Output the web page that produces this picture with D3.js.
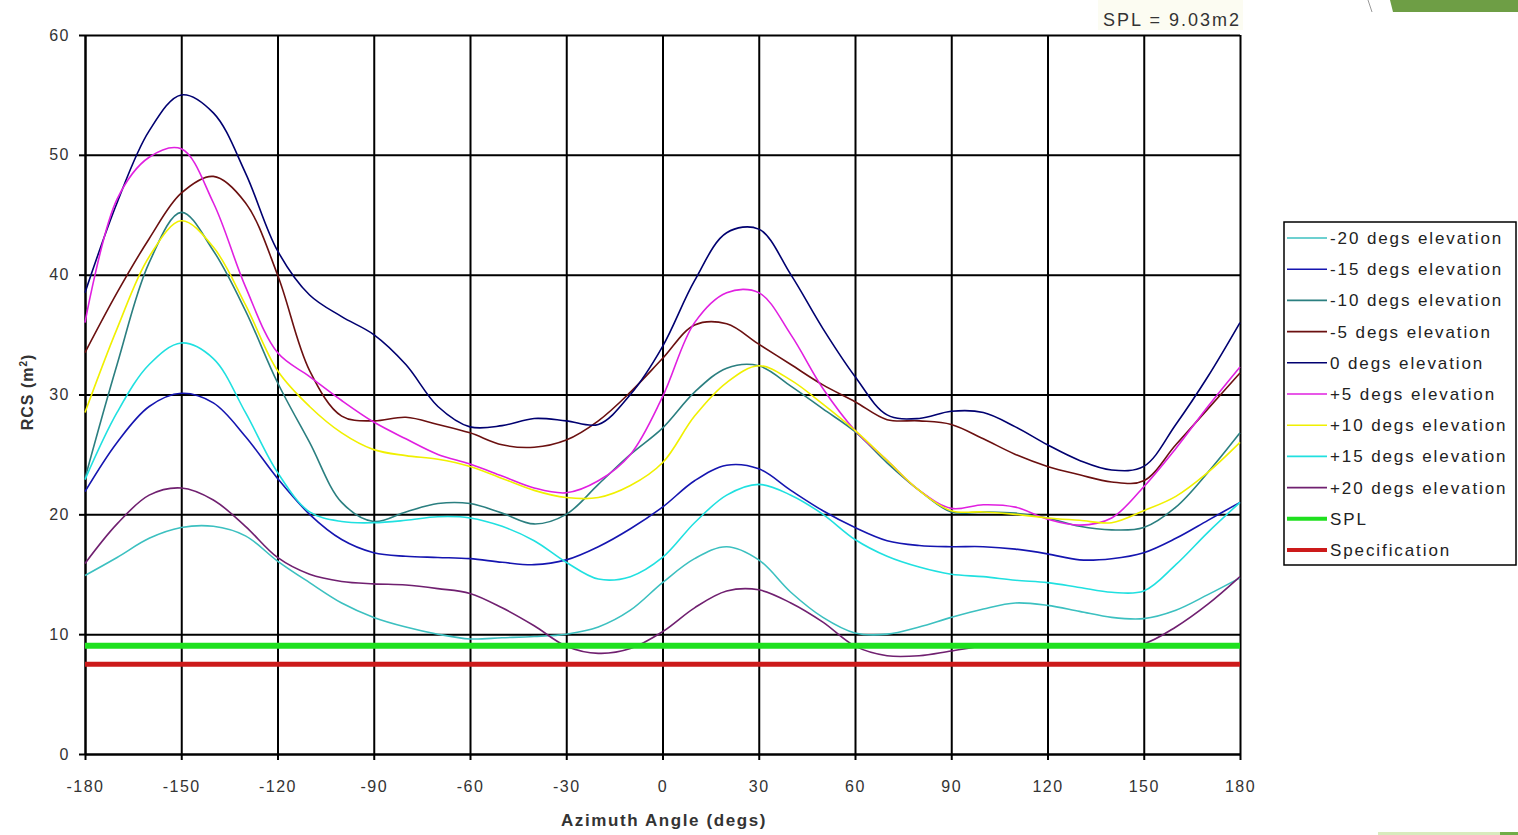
<!DOCTYPE html>
<html>
<head>
<meta charset="utf-8">
<title>RCS vs Azimuth Angle</title>
<script src="https://d3js.org/d3.v7.min.js"></script>
<style>
    body { margin: 0; background: #fff; }
    svg { display: block; font-family: "Liberation Sans", Arial, sans-serif; }
</style>
</head>
<body>
<svg width="1518" height="835"></svg>
<script>
// azimuth samples (degs)
const azimuth = [-180,-170,-160,-150,-140,-130,-120,-110,-100,-90,-80,-70,-60,-50,-40,-30,-20,-10,
                 0,10,20,30,40,50,60,70,80,90,100,110,120,130,140,150,160,170,180];

// RCS (m2) per elevation
const elevM20 = [14.9,16.4,18.0,18.9,19.0,18.2,16.1,14.3,12.6,11.4,10.6,10.0,9.6,9.7,9.8,10.0,10.6,12.0,
                 14.3,16.3,17.3,16.2,13.5,11.4,10.1,10.0,10.6,11.4,12.1,12.6,12.4,11.9,11.4,11.3,12.0,13.3,14.7];
const elevM15 = [21.9,26.0,29.0,30.1,29.3,26.5,23.0,20.0,17.9,16.8,16.5,16.4,16.3,16.0,15.8,16.2,17.3,18.8,
                 20.6,22.8,24.1,23.8,22.0,20.3,18.9,17.8,17.4,17.3,17.3,17.1,16.7,16.2,16.3,16.8,18.0,19.5,21.0];
const elevM10 = [23.0,32.5,41.0,45.2,42.0,37.0,31.0,26.0,21.0,19.4,20.2,20.9,20.9,20.1,19.2,20.0,22.5,25.0,
                 27.2,30.2,32.2,32.4,30.7,28.8,26.9,24.3,22.0,20.2,20.2,20.1,19.7,19.0,18.7,18.9,20.6,23.5,26.8];
const elevM5  = [33.5,38.5,43.0,46.8,48.2,46.0,40.0,32.0,28.2,27.8,28.1,27.5,26.8,25.8,25.6,26.2,27.8,30.2,
                 33.0,35.8,35.9,34.2,32.5,30.8,29.4,27.9,27.8,27.5,26.3,25.0,24.0,23.3,22.7,22.8,25.8,28.8,31.8];
const elev0   = [38.5,46.0,52.0,55.0,53.5,48.5,42.0,38.3,36.5,35.0,32.5,29.0,27.3,27.4,28.0,27.8,27.5,30.0,
                 34.0,39.5,43.5,43.8,40.0,35.5,31.5,28.3,28.0,28.6,28.5,27.3,25.8,24.5,23.7,24.0,27.5,31.5,36.0];
const elevP5  = [36.0,46.3,49.8,50.5,46.0,39.0,33.5,31.5,29.5,27.7,26.3,25.0,24.2,23.2,22.2,21.8,22.8,25.0,
                 29.8,36.0,38.5,38.5,35.0,30.5,27.0,24.5,22.0,20.5,20.8,20.6,19.6,19.1,19.7,22.3,25.5,29.0,32.3];
const elevP10 = [28.5,35.5,41.5,44.5,42.3,37.5,32.0,29.0,26.8,25.4,24.9,24.6,24.0,23.0,22.0,21.4,21.4,22.4,
                 24.3,28.2,31.0,32.4,31.2,29.2,27.0,24.5,22.0,20.3,20.2,20.0,19.7,19.5,19.3,20.3,21.5,23.5,26.0];
const elevP15 = [22.9,28.5,32.5,34.3,33.0,28.5,23.5,20.2,19.4,19.3,19.5,19.8,19.7,19.0,17.8,16.0,14.6,14.8,
                 16.4,19.3,21.6,22.5,21.6,20.0,17.9,16.5,15.6,15.0,14.8,14.5,14.3,13.9,13.5,13.6,15.8,18.5,21.0];
const elevP20 = [15.9,19.2,21.6,22.2,21.2,19.0,16.4,15.0,14.4,14.2,14.1,13.8,13.4,12.2,10.7,9.0,8.4,8.8,
                 10.2,12.2,13.6,13.7,12.6,11.0,9.0,8.2,8.2,8.6,9.0,9.0,9.0,9.0,9.0,9.2,10.6,12.5,14.8];

const splValue = 9.03;
const specValue = 7.5;

const xTicks = [-180,-150,-120,-90,-60,-30,0,30,60,90,120,150,180];
const yTicks = [0,10,20,30,40,50,60];

const series = [
    { name: "-20 degs elevation", values: elevM20, color: "#3cc0c0" },
    { name: "-15 degs elevation", values: elevM15, color: "#1515b0" },
    { name: "-10 degs elevation", values: elevM10, color: "#2b7f80" },
    { name: "-5 degs elevation",  values: elevM5,  color: "#6b1010" },
    { name: "0 degs elevation",   values: elev0,   color: "#000070" },
    { name: "+5 degs elevation",  values: elevP5,  color: "#e020e0" },
    { name: "+10 degs elevation", values: elevP10, color: "#f0f000" },
    { name: "+15 degs elevation", values: elevP15, color: "#20e0e0" },
    { name: "+20 degs elevation", values: elevP20, color: "#702070" }
];
const refLines = [
    { name: "SPL", value: splValue, color: "#1fe01f", width: 6 },
    { name: "Specification", value: specValue, color: "#cc1a1a", width: 5 }
];

const svg = d3.select("svg");
const plotLeft = 85, plotRight = 1240, plotTop = 35, plotBottom = 754;

const x = d3.scaleLinear().domain([-180, 180]).range([plotLeft, plotRight]);
const y = d3.scaleLinear().domain([0, 60]).range([plotBottom, plotTop]);

// grid
svg.append("g")
    .attr("transform", `translate(0,${plotBottom})`)
    .call(d3.axisBottom(x).tickValues(xTicks).tickSize(-(plotBottom - plotTop)).tickFormat(""))
    .call(g => g.select(".domain").remove())
    .selectAll("line").attr("stroke", "#000").attr("stroke-width", 2);
svg.append("g")
    .attr("transform", `translate(${plotLeft},0)`)
    .call(d3.axisLeft(y).tickValues(yTicks).tickSize(-(plotRight - plotLeft)).tickFormat(""))
    .call(g => g.select(".domain").remove())
    .selectAll("line").attr("stroke", "#000").attr("stroke-width", 2);

// axes (plain hyphen minus, like the original)
const plain = d => String(d);
const xAxis = svg.append("g")
    .attr("transform", `translate(0,${plotBottom})`)
    .call(d3.axisBottom(x).tickValues(xTicks).tickFormat(plain).tickSizeInner(6).tickSizeOuter(0).tickPadding(21));
const yAxis = svg.append("g")
    .attr("transform", `translate(${plotLeft},0)`)
    .call(d3.axisLeft(y).tickValues(yTicks).tickFormat(plain).tickSizeInner(6).tickSizeOuter(0).tickPadding(9));
[xAxis, yAxis].forEach(a => {
    a.select(".domain").attr("stroke", "#000").attr("stroke-width", 2);
    a.selectAll("line").attr("stroke", "#000").attr("stroke-width", 2);
    a.selectAll("text")
        .attr("font-family", "Liberation Sans, Arial, sans-serif")
        .attr("font-size", 16)
        .attr("letter-spacing", 1.5)
        .attr("fill", "#333");
});

// series
const line = d3.line()
    .x((d, i) => x(azimuth[i]))
    .y(d => y(d))
    .curve(d3.curveCatmullRom.alpha(0.5));

svg.append("g").selectAll("path")
    .data(series)
    .enter().append("path")
    .attr("d", d => line(d.values))
    .attr("fill", "none")
    .attr("stroke", d => d.color)
    .attr("stroke-width", 1.6);

svg.append("g").selectAll("line")
    .data(refLines)
    .enter().append("line")
    .attr("x1", x(-180)).attr("x2", x(180))
    .attr("y1", d => y(d.value)).attr("y2", d => y(d.value))
    .attr("stroke", d => d.color)
    .attr("stroke-width", d => d.width);

// axis titles
svg.append("text")
    .attr("x", 664).attr("y", 826)
    .attr("text-anchor", "middle")
    .attr("font-size", 17).attr("font-weight", "bold")
    .attr("letter-spacing", 1.6)
    .attr("fill", "#333")
    .text("Azimuth Angle (degs)");

const yTitle = svg.append("text")
    .attr("transform", "translate(33,392) rotate(-90)")
    .attr("text-anchor", "middle")
    .attr("font-size", 16).attr("font-weight", "bold")
    .attr("letter-spacing", 1)
    .attr("fill", "#333");
yTitle.append("tspan").text("RCS (m");
yTitle.append("tspan").attr("font-size", 10).attr("dy", -6).text("2");
yTitle.append("tspan").attr("dy", 6).text(")");

// SPL note
svg.append("rect").attr("x", 1098).attr("y", 0).attr("width", 145).attr("height", 30).attr("fill", "#fcfcf2");
svg.append("text")
    .attr("x", 1172).attr("y", 26)
    .attr("text-anchor", "middle")
    .attr("font-size", 18).attr("letter-spacing", 2)
    .attr("fill", "#333")
    .text("SPL = 9.03m2");

// legend
const legendItems = series.map(s => ({ name: s.name, color: s.color, width: 1.6 }))
    .concat(refLines.map(r => ({ name: r.name, color: r.color, width: 4 })));
const legend = svg.append("g");
legend.append("rect")
    .attr("x", 1284).attr("y", 222).attr("width", 232).attr("height", 343)
    .attr("fill", "#fff").attr("stroke", "#000").attr("stroke-width", 1.5);
const item = legend.selectAll("g.item")
    .data(legendItems)
    .enter().append("g")
    .attr("class", "item")
    .attr("transform", (d, i) => `translate(0,${238 + i * 31.2})`);
item.append("line")
    .attr("x1", 1287).attr("x2", 1327)
    .attr("stroke", d => d.color)
    .attr("stroke-width", d => d.width);
item.append("text")
    .attr("x", 1330).attr("dy", "0.35em")
    .attr("font-size", 17).attr("letter-spacing", 1.9)
    .attr("fill", "#222")
    .text(d => d.name);

// slide decorations
svg.append("line").attr("x1", 1368).attr("y1", 0).attr("x2", 1372).attr("y2", 12)
    .attr("stroke", "#999").attr("stroke-width", 1);
svg.append("path").attr("d", "M1390,0 L1518,0 L1518,12 L1393,12 Z").attr("fill", "#6e9e45");
svg.append("rect").attr("x", 1378).attr("y", 832).attr("width", 125).attr("height", 3).attr("fill", "#d8ebbd");
svg.append("rect").attr("x", 1500).attr("y", 832).attr("width", 18).attr("height", 3).attr("fill", "#70ad47");
</script>
</body>
</html>
